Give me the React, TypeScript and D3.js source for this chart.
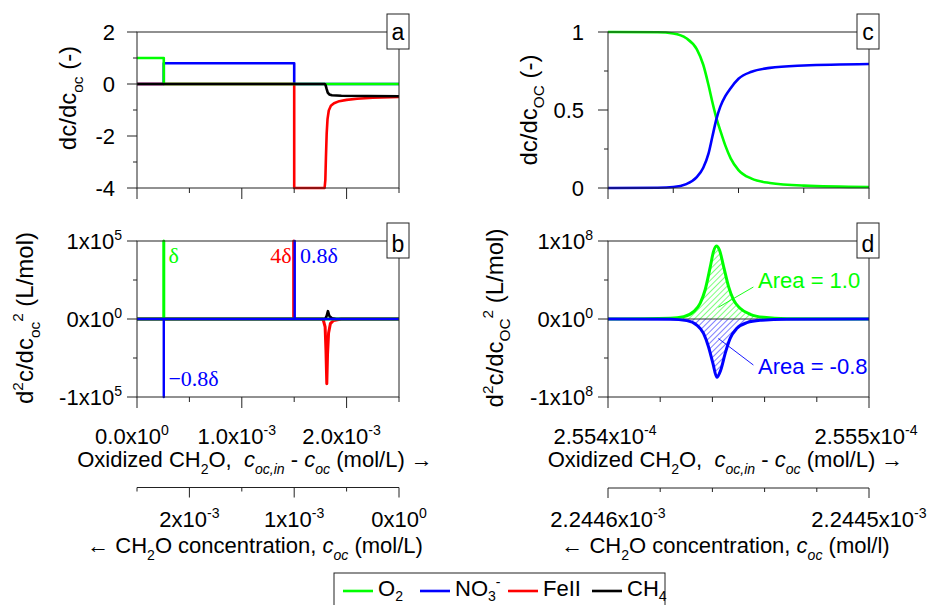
import React from "react";
import * as d3 from "d3";

type Pt = [number, number];

const seriesNames = ["O2", "NO3-", "FeII", "CH4"];
const seriesColors = ["#00ff00", "#0000ff", "#ff0000", "#000000"];

// (a) dc/dc_oc over the whole oxidized range (mol/L)
const o2A: Pt[] = [[0, 1], [0.2555e-3, 1], [0.2555e-3, 0], [2.5e-3, 0]];
const no3A: Pt[] = [[0, 0], [0.2555e-3, 0], [0.2555e-3, 0.8], [1.5e-3, 0.8], [1.5e-3, 0], [2.5e-3, 0]];
const feA: Pt[] = [
  [0, 0], [1.5e-3, 0], [1.5e-3, -4], [1.79e-3, -4], [1.797e-3, -3.7], [1.803e-3, -2.8], [1.81e-3, -1.9],
  [1.818e-3, -1.35], [1.83e-3, -1.02], [1.85e-3, -0.84], [1.88e-3, -0.74], [1.93e-3, -0.66],
  [2.0e-3, -0.61], [2.1e-3, -0.57], [2.25e-3, -0.53], [2.5e-3, -0.5],
];
const ch4A: Pt[] = [
  [0, 0], [1.792e-3, 0], [1.8e-3, -0.05], [1.81e-3, -0.2], [1.82e-3, -0.33], [1.835e-3, -0.4],
  [1.86e-3, -0.43], [1.95e-3, -0.45], [2.2e-3, -0.46], [2.5e-3, -0.47],
];

// (b) d2c/dc_oc2 (L/mol)
const o2B: Pt[] = [[0, 0], [0.2555e-3, 0], [0.2555e-3, 1e5], [0.2555e-3, 0], [2.5e-3, 0]];
const no3B: Pt[] = [
  [0, 0], [0.2555e-3, 0], [0.2555e-3, -1e5], [0.2555e-3, 0], [1.505e-3, 0], [1.505e-3, 1e5],
  [1.505e-3, 0], [2.5e-3, 0],
];
const feB: Pt[] = [
  [0, 0], [1.495e-3, 0], [1.495e-3, 1e5], [1.495e-3, 0], [1.775e-3, 0], [1.795e-3, -0.1e5],
  [1.803e-3, -0.4e5], [1.811e-3, -0.83e5], [1.818e-3, -0.45e5], [1.828e-3, -0.18e5],
  [1.845e-3, -0.06e5], [1.875e-3, -0.02e5], [1.95e-3, 0], [2.5e-3, 0],
];
const ch4B: Pt[] = [
  [0, 0], [1.795e-3, 0], [1.81e-3, 0.04e5], [1.822e-3, 0.1e5], [1.835e-3, 0.04e5],
  [1.86e-3, 0.01e5], [1.9e-3, 0], [2.5e-3, 0],
];

// (c) zoom on the O2 -> NO3- transition
const o2C: Pt[] = [
  [2.554e-4, 1.0], [2.55419e-4, 0.998], [2.55425e-4, 0.99], [2.5543e-4, 0.96], [2.55434e-4, 0.89],
  [2.554365e-4, 0.79], [2.554385e-4, 0.66], [2.5544e-4, 0.55], [2.554415e-4, 0.45], [2.55443e-4, 0.37],
  [2.55445e-4, 0.27], [2.55447e-4, 0.19], [2.5545e-4, 0.115], [2.55455e-4, 0.06], [2.55462e-4, 0.032],
  [2.55475e-4, 0.015], [2.555e-4, 0.006],
];
const no3C: Pt[] = [
  [2.554e-4, 0], [2.55419e-4, 0.002], [2.55425e-4, 0.006], [2.5543e-4, 0.025], [2.55434e-4, 0.07],
  [2.554365e-4, 0.13], [2.554385e-4, 0.22], [2.5544e-4, 0.33], [2.554415e-4, 0.44], [2.55443e-4, 0.52],
  [2.55445e-4, 0.59], [2.55447e-4, 0.64], [2.5545e-4, 0.7], [2.55455e-4, 0.745], [2.55462e-4, 0.77],
  [2.55475e-4, 0.785], [2.555e-4, 0.795],
];

// (d) second derivative over the same transition
const o2D: Pt[] = [
  [2.554e-4, 0], [2.554239e-4, 0.009e8], [2.55429e-4, 0.03e8], [2.554328e-4, 0.094e8], [2.554353e-4, 0.2e8],
  [2.554372e-4, 0.372e8], [2.554392e-4, 0.671e8], [2.554404e-4, 0.863e8], [2.554415e-4, 0.936e8],
  [2.554427e-4, 0.885e8], [2.554443e-4, 0.671e8], [2.554462e-4, 0.415e8], [2.554481e-4, 0.244e8],
  [2.554506e-4, 0.137e8], [2.554545e-4, 0.06e8], [2.554596e-4, 0.021e8], [2.554685e-4, 0.004e8], [2.555e-4, 0],
];
const no3D: Pt[] = [
  [2.554e-4, 0], [2.554239e-4, -0.004e8], [2.554302e-4, -0.021e8], [2.55434e-4, -0.077e8],
  [2.554366e-4, -0.184e8], [2.554385e-4, -0.355e8], [2.554402e-4, -0.568e8], [2.554417e-4, -0.748e8],
  [2.554432e-4, -0.654e8], [2.554449e-4, -0.44e8], [2.554468e-4, -0.248e8], [2.554494e-4, -0.12e8],
  [2.554532e-4, -0.047e8], [2.554583e-4, -0.017e8], [2.554685e-4, -0.004e8], [2.555e-4, 0],
];

// ticks and tick labels
const aYTicks = [-4, -3, -2, -1, 0, 1, 2];
const aYLabels = [{ v: -4, m: "-4" }, { v: -2, m: "-2" }, { v: 0, m: "0" }, { v: 2, m: "2" }];
const bYTicks = [-1e5, -0.5e5, 0, 0.5e5, 1e5];
const bYLabels = [{ v: -1e5, m: "-1", e: "5" }, { v: 0, m: "0", e: "0" }, { v: 1e5, m: "1", e: "5" }];
const cYTicks = [0, 0.25, 0.5, 0.75, 1];
const cYLabels = [{ v: 0, m: "0" }, { v: 0.5, m: "0.5" }, { v: 1, m: "1" }];
const dYTicks = [-1e8, -0.5e8, 0, 0.5e8, 1e8];
const dYLabels = [{ v: -1e8, m: "-1", e: "8" }, { v: 0, m: "0", e: "0" }, { v: 1e8, m: "1", e: "8" }];

const leftXTicks = [0, 0.5e-3, 1e-3, 1.5e-3, 2e-3, 2.5e-3];
const leftXLabels = [{ v: 0, m: "0.0", e: "0" }, { v: 1e-3, m: "1.0", e: "-3" }, { v: 2e-3, m: "2.0", e: "-3" }];
const cXTicks = [2.554e-4, 2.55425e-4, 2.5545e-4, 2.55475e-4, 2.555e-4];
const dXTicks = [2.554e-4, 2.5542e-4, 2.5544e-4, 2.5546e-4, 2.5548e-4, 2.555e-4];
const rightXLabels = [{ v: 2.554e-4, m: "2.554", e: "-4" }, { v: 2.555e-4, m: "2.555", e: "-4" }];

const concLeftTicks = [2.5e-3, 2e-3, 1.5e-3, 1e-3, 0.5e-3, 0];
const concLeftLabels = [{ v: 2e-3, m: "2", e: "-3" }, { v: 1e-3, m: "1", e: "-3" }, { v: 0, m: "0", e: "0" }];
const concRightTicks = [2.2446e-3, 2.24458e-3, 2.24456e-3, 2.24454e-3, 2.24452e-3, 2.2445e-3];
const concRightLabels = [{ v: 2.2446e-3, m: "2.2446", e: "-3" }, { v: 2.2445e-3, m: "2.2445", e: "-3" }];

const FONT = "'Liberation Sans', Arial, Helvetica, sans-serif";
const SERIF = "'Liberation Serif', 'Times New Roman', serif";
const FRAME = "#222";

const LEFT = { x0: 137, x1: 399 };
const RIGHT = { x0: 608, x1: 869 };
const TOP = { y0: 32, y1: 188 };
const BOT = { y0: 241, y1: 397 };

type Seg = { t: string; s?: "sub" | "sup"; i?: boolean };

function rich(segs: Seg[], size: number, subShift = 0.3) {
  let cur = 0;
  return segs.map((g, k) => {
    const target = g.s === "sub" ? size * subShift : g.s === "sup" ? -size * 0.42 : 0;
    const dy = target - cur;
    cur = target;
    return (
      <tspan key={k} dy={dy} fontSize={g.s ? size * 0.64 : size} fontStyle={g.i ? "italic" : "normal"}>
        {g.t}
      </tspan>
    );
  });
}

const sci = (m: string, e?: string) => (e === undefined ? [{ t: m }] : [{ t: m + "x10" }, { t: e, s: "sup" as const }]);

const near = (a: number, list: { v: number }[]) => list.some((l) => Math.abs(l.v - a) <= Math.abs(a) * 1e-9 + 1e-15);

function Panel(props: any) {
  const { bx, by, xDomain, yDomain, xTicks, xMajor, yTicks, yLabels, labelEnd, letter, ytitle, ytx, yty, render } = props;
  const x = d3.scaleLinear().domain(xDomain).range([bx.x0, bx.x1]);
  const y = d3.scaleLinear().domain(yDomain).range([by.y1, by.y0]);
  const id = "clip-" + letter;
  const cx = bx.x1 - 1;
  return (
    <g>
      <clipPath id={id}>
        <rect x={bx.x0} y={by.y0 - 2} width={bx.x1 - bx.x0} height={by.y1 - by.y0 + 4} />
      </clipPath>
      <g clipPath={`url(#${id})`}>{render(x, y)}</g>
      <rect x={bx.x0} y={by.y0} width={bx.x1 - bx.x0} height={by.y1 - by.y0} fill="none" stroke={FRAME} strokeWidth={1} />
      {yTicks.map((t: number) => (
        <line key={"y" + t} x1={bx.x0 - (near(t, yLabels) ? 10 : 4)} x2={bx.x0} y1={y(t)} y2={y(t)} stroke={FRAME} />
      ))}
      {xTicks.map((t: number) => (
        <line key={"x" + t} x1={x(t)} x2={x(t)} y1={by.y1} y2={by.y1 + (near(t, xMajor) ? 11 : 5)} stroke={FRAME} />
      ))}
      {yLabels.map((l: any) => (
        <text key={"l" + l.v} x={labelEnd} y={y(l.v) + 8} textAnchor="end" fontSize={22} fontFamily={FONT}>
          {rich(sci(l.m, l.e), 22)}
        </text>
      ))}
      <text transform={`translate(${ytx},${yty}) rotate(-90)`} textAnchor="middle" fontFamily={FONT} fontSize={24}>
        {rich(ytitle, 24)}
      </text>
      <rect x={cx - 11} y={by.y0 - 18} width={22} height={35} fill="#fff" stroke={FRAME} />
      <text x={cx} y={by.y0 - 0.5 + (/[bd]/.test(letter) ? 11.5 : 8)} textAnchor="middle" fontFamily={FONT} fontSize={23}>
        {letter}
      </text>
    </g>
  );
}

function Trace({ data, x, y, color, w = 2.6, curve = d3.curveLinear }: any) {
  const gen = d3.line<Pt>().x((d) => x(d[0])).y((d) => y(d[1])).curve(curve);
  return <path d={gen(data) || ""} fill="none" stroke={color} strokeWidth={w} strokeLinejoin="round" />;
}

function ConcAxis({ bx, domain, ticks, labels, yLine }: any) {
  const s = d3.scaleLinear().domain(domain).range([bx.x0, bx.x1]);
  return (
    <g>
      <line x1={bx.x0} x2={bx.x1} y1={yLine} y2={yLine} stroke={FRAME} />
      {ticks.map((t: number) => (
        <line key={t} x1={s(t)} x2={s(t)} y1={yLine} y2={yLine + (near(t, labels) ? 10 : 4)} stroke={FRAME} />
      ))}
      {labels.map((l: any) => (
        <text key={"c" + l.v} x={s(l.v)} y={527} textAnchor="middle" fontSize={22} fontFamily={FONT}>
          {rich(sci(l.m, l.e), 22)}
        </text>
      ))}
    </g>
  );
}

export default function App() {
  const xa = d3.scaleLinear().domain([0, 2.5e-3]).range([LEFT.x0, LEFT.x1]);
  const xc = d3.scaleLinear().domain([2.554e-4, 2.555e-4]).range([RIGHT.x0, RIGHT.x1]);
  const [G, B, R, K] = seriesColors;
  const mono = d3.curveMonotoneX;

  const legendX = [343, 420, 508, 592];
  const legendLabels: Seg[][] = [
    [{ t: "O" }, { t: "2", s: "sub" }],
    [{ t: "NO" }, { t: "3", s: "sub" }, { t: "-", s: "sup" }],
    [{ t: "FeII" }],
    [{ t: "CH" }, { t: "4", s: "sub" }],
  ];

  return (
    <svg width={929} height={605} style={{ position: "absolute", left: 0, top: 0, background: "#fff" }}>
      <defs>
        <pattern id="hatchG" patternUnits="userSpaceOnUse" width={4} height={4} patternTransform="rotate(45)">
          <line x1={0} y1={0} x2={0} y2={4} stroke={G} strokeWidth={1} />
        </pattern>
        <pattern id="hatchB" patternUnits="userSpaceOnUse" width={4} height={4} patternTransform="rotate(45)">
          <line x1={0} y1={0} x2={0} y2={4} stroke={B} strokeWidth={1} />
        </pattern>
      </defs>

      <Panel
        bx={LEFT} by={TOP} xDomain={[0, 2.5e-3]} yDomain={[-4, 2]} xTicks={leftXTicks} xMajor={leftXLabels}
        yTicks={aYTicks} yLabels={aYLabels} labelEnd={115} letter="a" ytx={76} yty={98}
        ytitle={[{ t: "dc/dc" }, { t: "oc", s: "sub" }, { t: " (-)" }]}
        render={(x: any, y: any) => (
          <g>
            <Trace data={no3A} x={x} y={y} color={B} />
            <Trace data={feA} x={x} y={y} color={R} />
            <Trace data={o2A} x={x} y={y} color={G} />
            <Trace data={ch4A} x={x} y={y} color={K} />
          </g>
        )}
      />

      <Panel
        bx={LEFT} by={BOT} xDomain={[0, 2.5e-3]} yDomain={[-1e5, 1e5]} xTicks={leftXTicks} xMajor={leftXLabels}
        yTicks={bYTicks} yLabels={bYLabels} labelEnd={122} letter="b" ytx={33} yty={318}
        ytitle={[{ t: "d" }, { t: "2", s: "sup" }, { t: "c/dc" }, { t: "oc", s: "sub" }, { t: "2", s: "sup" }, { t: " (L/mol)" }]}
        render={(x: any, y: any) => (
          <g>
            <Trace data={feB} x={x} y={y} color={R} w={3} />
            <Trace data={o2B} x={x} y={y} color={G} w={3} />
            <Trace data={ch4B} x={x} y={y} color={K} w={2.6} />
            <Trace data={no3B} x={x} y={y} color={B} w={2.4} />
            <text x={x(0.3e-3)} y={y(0.715e5)} fill={G} fontFamily={SERIF} fontSize={22}>δ</text>
            <text x={x(1.475e-3)} y={y(0.715e5)} fill={R} fontFamily={SERIF} fontSize={22} textAnchor="end">4δ</text>
            <text x={x(1.555e-3)} y={y(0.715e5)} fill={B} fontFamily={SERIF} fontSize={22}>0.8δ</text>
            <text x={x(0.3e-3)} y={y(-0.865e5)} fill={B} fontFamily={SERIF} fontSize={22}>−0.8δ</text>
          </g>
        )}
      />

      <Panel
        bx={RIGHT} by={TOP} xDomain={[2.554e-4, 2.555e-4]} yDomain={[0, 1]} xTicks={cXTicks} xMajor={rightXLabels}
        yTicks={cYTicks} yLabels={cYLabels} labelEnd={584} letter="c" ytx={537} yty={110}
        ytitle={[{ t: "dc/dc" }, { t: "OC", s: "sub" }, { t: " (-)" }]}
        render={(x: any, y: any) => (
          <g>
            <Trace data={o2C} x={x} y={y} color={G} curve={mono} />
            <Trace data={no3C} x={x} y={y} color={B} curve={mono} />
          </g>
        )}
      />

      <Panel
        bx={RIGHT} by={BOT} xDomain={[2.554e-4, 2.555e-4]} yDomain={[-1e8, 1e8]} xTicks={dXTicks} xMajor={rightXLabels}
        yTicks={dYTicks} yLabels={dYLabels} labelEnd={593} letter="d" ytx={503} yty={318}
        ytitle={[{ t: "d" }, { t: "2", s: "sup" }, { t: "c/dc" }, { t: "OC", s: "sub" }, { t: "2", s: "sup" }, { t: " (L/mol)" }]}
        render={(x: any, y: any) => {
          const ar = d3.area<Pt>().x((d) => x(d[0])).y0(y(0)).y1((d) => y(d[1])).curve(mono);
          return (
            <g>
              <path d={ar(o2D) || ""} fill="url(#hatchG)" />
              <path d={ar(no3D) || ""} fill="url(#hatchB)" />
              <line x1={x(2.554e-4)} x2={x(2.555e-4)} y1={y(0)} y2={y(0)} stroke="#333" strokeWidth={1} />
              <Trace data={o2D} x={x} y={y} color={G} w={3} curve={mono} />
              <Trace data={no3D} x={x} y={y} color={B} w={3} curve={mono} />
              <line x1={x(2.554423e-4)} y1={y(0.15e8)} x2={x(2.554557e-4)} y2={y(0.41e8)} stroke={G} strokeWidth={0.9} />
              <line x1={x(2.554423e-4)} y1={y(-0.25e8)} x2={x(2.554557e-4)} y2={y(-0.59e8)} stroke={B} strokeWidth={0.9} />
              <text x={x(2.554575e-4)} y={y(0.4e8)} fill={G} fontFamily={FONT} fontSize={22}>Area = 1.0</text>
              <text x={x(2.554575e-4)} y={y(-0.7e8)} fill={B} fontFamily={FONT} fontSize={22}>Area = -0.8</text>
            </g>
          );
        }}
      />

      {/* oxidized CH2O tick labels and titles */}
      {leftXLabels.map((l) => (
        <text key={"lx" + l.v} x={xa(l.v) - 5} y={444} textAnchor="middle" fontSize={22} fontFamily={FONT}>
          {rich(sci(l.m, l.e), 22)}
        </text>
      ))}
      {rightXLabels.map((l) => (
        <text key={"rx" + l.v} x={xc(l.v) - 3} y={444} textAnchor="middle" fontSize={22} fontFamily={FONT}>
          {rich(sci(l.m, l.e), 22)}
        </text>
      ))}
      {[LEFT, RIGHT].map((bx, k) => (
        <text key={"t1" + k} x={(bx.x0 + bx.x1) / 2 - 13} y={467} textAnchor="middle" fontSize={22} fontFamily={FONT} style={{ whiteSpace: "pre" }}>
          {rich([{ t: "Oxidized CH" }, { t: "2", s: "sub" }, { t: "O,  " }, { t: "c", i: true }, { t: "oc,in", s: "sub", i: true }, { t: " - " }, { t: "c", i: true }, { t: "oc", s: "sub", i: true }, { t: " (mol/L) →" }], 22)}
        </text>
      ))}

      {/* CH2O concentration axes */}
      <ConcAxis bx={LEFT} domain={[2.5e-3, 0]} ticks={concLeftTicks} labels={concLeftLabels} yLine={487.5} />
      <ConcAxis bx={RIGHT} domain={[2.2446e-3, 2.2445e-3]} ticks={concRightTicks} labels={concRightLabels} yLine={488} />
      {[LEFT, RIGHT].map((bx, k) => (
        <text key={"t2" + k} x={(bx.x0 + bx.x1) / 2 - 13} y={553} textAnchor="middle" fontSize={22} fontFamily={FONT}>
          {rich([{ t: "← CH" }, { t: "2", s: "sub" }, { t: "O concentration, " }, { t: "c", i: true }, { t: "oc", s: "sub", i: true }, { t: k === 0 ? " (mol/L)" : " (mol/l)" }], 22)}
        </text>
      ))}

      {/* legend */}
      <rect x={334} y={573} width={331} height={40} fill="#fff" stroke={FRAME} />
      {seriesNames.map((n, k) => (
        <g key={n}>
          <line x1={legendX[k]} x2={legendX[k] + 30} y1={591} y2={591} stroke={seriesColors[k]} strokeWidth={2.6} />
          <text x={legendX[k] + 35} y={596} fontSize={22} fontFamily={FONT}>
            {rich(legendLabels[k], 22, 0.22)}
          </text>
        </g>
      ))}
    </svg>
  );
}
